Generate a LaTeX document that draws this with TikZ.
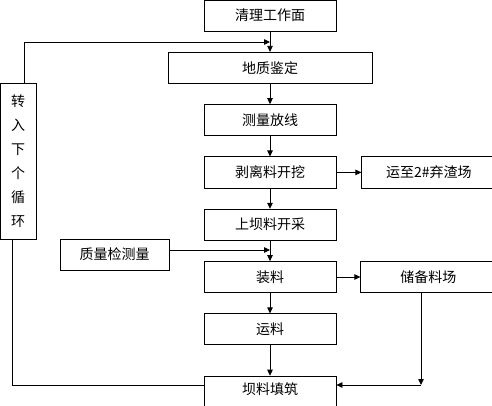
\documentclass[tikz,border=0pt]{standalone}
\usepackage{fontspec}
\newfontfamily\cjk{Noto Sans CJK SC}
\usetikzlibrary{arrows.meta,positioning}

\begin{document}
\begin{tikzpicture}[
  x=1pt,y=-1pt,
  node distance=20.5pt and 25pt,
  box/.style={draw,line width=0.8pt,minimum width=132pt,minimum height=31pt,inner sep=0pt,font=\cjk\fontsize{14}{16}\selectfont},
  arr/.style={-{Triangle[length=6pt,width=5.5pt]},line width=0.8pt},
  ln/.style={line width=0.8pt}
]
\useasboundingbox (0,0) rectangle (492,406);
\node[box] (clean) at (270,15.5) {清理工作面};
\node[box,minimum width=204pt,below=of clean] (survey) {地质鉴定};
\node[box,below=of survey] (layout) {测量放线};
\node[box,below=of layout] (strip) {剥离料开挖};
\node[box,minimum width=134pt,right=of strip] (waste) {运至2\#弃渣场};
\node[box,below=of strip] (quarry) {上坝料开采};
\node[box,below=of quarry] (load) {装料};
\node[box,minimum width=135pt,right=24pt of load] (store) {储备料场};
\node[box,below=of load] (haul) {运料};
\node[box,minimum height=44pt,text depth=19pt,below=30.5pt of haul] (fill) {坝料填筑};
\node[box,minimum width=109pt] (check) at (114.5,254.5) {质量检测量};
\node[box,minimum width=36pt,minimum height=156pt,align=center,
  font=\cjk\fontsize{14}{24}\selectfont] (loop) at (18,161) {转\\入\\下\\个\\循\\环};
% named free ends
\coordinate (backout) at (24,42);
\coordinate (backin) at (270,42);
\coordinate (qcin) at (270,250);
\coordinate (fillout) at (12,385);
\coordinate (storedown) at (421,385);
% main flow
\draw[arr] (clean) -- (survey);
\draw[arr] (survey) -- (layout);
\draw[arr] (layout) -- (strip);
\draw[arr] (strip) -- (waste);
\draw[arr] (strip) -- (quarry);
\draw[arr] (quarry) -- (load);
\draw[arr] (load) -- (store);
\draw[arr] (load) -- (haul);
\draw[arr] (haul) -- (fill);
\draw[arr] (check.east |- qcin) -- (qcin);
% storage back to filling
\draw[arr] (store.south -| storedown) -- (storedown);
\draw[arr] (storedown) -- (fill.east |- storedown);
% cycle loop
\draw[ln] (fill.west |- fillout) -- (fillout) -- (loop.south -| fillout);
\draw[arr] (loop.north -| backout) -- (backout) -- (backin);
\end{tikzpicture}
\end{document}
